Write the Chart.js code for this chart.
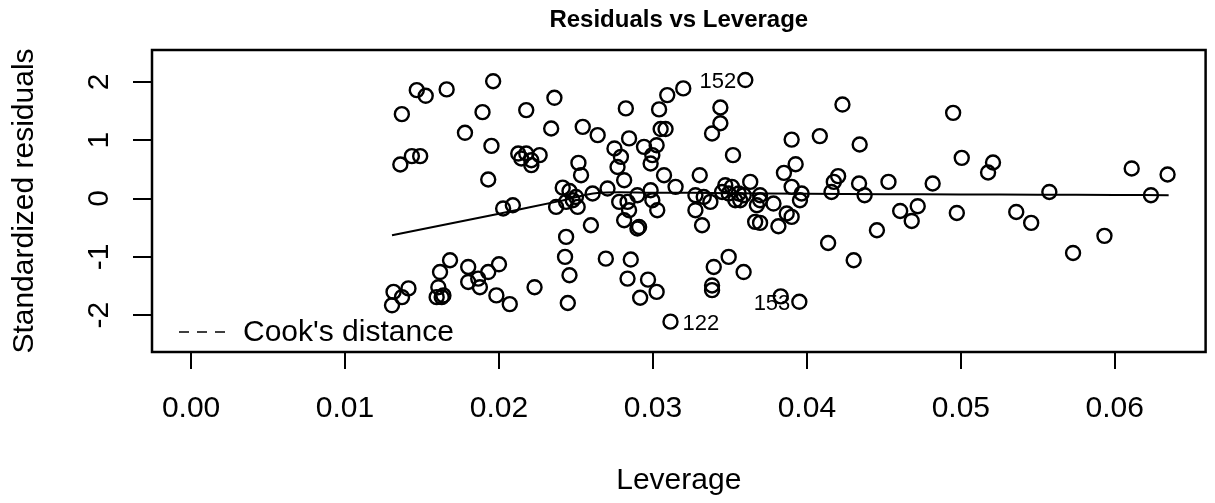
<!DOCTYPE html>
<html>
<head>
  <title>Residuals vs Leverage</title>
  <script src="https://cdn.jsdelivr.net/npm/chart.js"></script>
  <style>
    html, body { margin: 0; padding: 0; background: #fff; }
    #wrap { width: 1215px; height: 503px; }
  </style>
</head>
<body>
  <div id="wrap"><canvas id="chart" width="1215" height="503"></canvas></div>

  <script>
    // leverage (x) and standardized residuals (y)
    const leverage = [
      0.01369, 0.01466, 0.01524, 0.0166, 0.01779, 0.01893, 0.01962, 0.01951, 0.0193, 0.01359,
      0.01434, 0.01488, 0.02125, 0.02177, 0.02145, 0.0221, 0.02264, 0.0221, 0.02177, 0.0236,
      0.02339, 0.02027, 0.0209, 0.02371, 0.02414, 0.02458, 0.025, 0.02436, 0.02511, 0.02479,
      0.02608, 0.02705, 0.02516, 0.02533, 0.02544, 0.02641, 0.02597, 0.02436, 0.02429, 0.02458,
      0.02447, 0.01315, 0.01412, 0.0137, 0.01305, 0.01682, 0.01617, 0.01606, 0.01595, 0.01628,
      0.01639, 0.018, 0.018, 0.01865, 0.01876, 0.0193, 0.02, 0.01983, 0.0207, 0.02231,
      0.02824, 0.02845, 0.0275, 0.02792, 0.0277, 0.02942, 0.03024, 0.02996, 0.02985, 0.02813,
      0.0304, 0.0305, 0.03082, 0.03093, 0.03197, 0.03072, 0.03147, 0.02781, 0.02835, 0.02899,
      0.02845, 0.02813, 0.0291, 0.02899, 0.02985, 0.02996, 0.03028, 0.02694, 0.02856, 0.02835,
      0.02968, 0.03024, 0.02917, 0.03114, 0.036, 0.03438, 0.03438, 0.03384, 0.0352, 0.03304,
      0.03632, 0.03276, 0.0333, 0.03276, 0.03319, 0.03373, 0.0347, 0.03513, 0.03449, 0.03492,
      0.03557, 0.0359, 0.03535, 0.03567, 0.03664, 0.03696, 0.03675, 0.03696, 0.03783, 0.03901,
      0.03966, 0.03955, 0.03869, 0.03901, 0.03696, 0.03815, 0.03395, 0.03492, 0.03589, 0.03384,
      0.03384, 0.0383, 0.03951, 0.04231, 0.03901, 0.04084, 0.04343, 0.03927, 0.03851, 0.04203,
      0.04175, 0.0416, 0.04339, 0.04375, 0.0453, 0.04817, 0.04606, 0.0472, 0.04681, 0.04455,
      0.04138, 0.04304, 0.0495, 0.05006, 0.05209, 0.05177, 0.04974, 0.0536, 0.05457, 0.05575,
      0.05729, 0.05933, 0.0611, 0.06235, 0.06343
    ];
    const stdResid = [
      1.446, 1.857, 1.76, 1.87, 1.126, 1.48, 2.01, 0.902, 0.326, 0.583,
      0.726, 0.726, 0.771, 0.771, 0.686, 0.657, 0.743, 0.572, 1.515, 1.726,
      1.2, -0.17, -0.115, -0.144, 0.186, 0.129, 0.027, -0.058, -0.144, -0.03,
      0.086, 0.171, 0.61, 0.4, 1.228, 1.086, -0.458, -0.658, -1.0, -1.315,
      -1.79, -1.6, -1.54, -1.69, -1.83, -1.058, -1.26, -1.52, -1.69, -1.69,
      -1.66, -1.173, -1.43, -1.372, -1.52, -1.26, -1.127, -1.66, -1.81, -1.52,
      1.544, 1.03, 0.858, 0.714, 0.54, 0.885, 0.914, 0.743, 0.6, 0.314,
      1.527, 1.19, 1.19, 1.772, 1.887, 0.4, 0.2, -0.058, -0.058, 0.057,
      -0.2, -0.372, -0.487, -0.515, 0.142, -0.03, -0.2, -1.03, -1.046, -1.372,
      -1.39, -1.6, -1.7, -2.11, 2.03, 1.56, 1.29, 1.115, 0.743, 0.4,
      0.285, 0.057, 0.027, -0.2, -0.458, -0.058, 0.228, 0.2, 0.113, 0.086,
      0.086, 0.057, -0.03, -0.03, -0.4, 0.057, -0.115, -0.03, -0.086, 0.2,
      0.086, -0.03, -0.257, -0.315, -0.418, -0.475, -1.173, -1.0, -1.26, -1.49,
      -1.57, -1.676, -1.77, 1.61, 1.01, 1.07, 0.926, 0.588, 0.44, 0.383,
      0.285, 0.113, 0.257, 0.057, 0.285, 0.257, -0.213, -0.132, -0.384, -0.544,
      -0.762, -1.058, 1.468, 0.697, 0.617, 0.446, -0.247, -0.23, -0.418, 0.113,
      -0.933, -0.64, 0.515, 0.057, 0.412
    ];

    // smoother line, from its visible bends
    const smoothX = [0.01305, 0.0200, 0.0240, 0.0264, 0.0300, 0.0350, 0.0400, 0.0450, 0.0500, 0.0550, 0.0600, 0.0635];
    const smoothY = [-0.63, -0.26, -0.04, 0.096, 0.10, 0.092, 0.082, 0.075, 0.07, 0.066, 0.06, 0.057];

    // flagged observations
    const idNames = ['152', '122', '153'];
    const idX = [0.036, 0.03114, 0.03951];
    const idY = [2.03, -2.11, -1.77];
    const idSide = ['left', 'right', 'left'];

    const xTicks = [0, 0.01, 0.02, 0.03, 0.04, 0.05, 0.06];
    const yTicks = [-2, -1, 0, 1, 2];
    const xRange = [-0.00254, 0.0659];
    const yRange = [-2.63, 2.545];

    const FONT = '"Liberation Sans", Arial, sans-serif';

    const rPlot = {
      id: 'rPlot',
      afterDraw(chart) {
        const ctx = chart.ctx;
        const a = chart.chartArea;
        const xs = chart.scales.x, ys = chart.scales.y;
        ctx.save();
        ctx.fillStyle = '#000';
        ctx.strokeStyle = '#000';

        // box
        ctx.lineWidth = 2.5;
        ctx.strokeRect(a.left, a.top, a.right - a.left, a.bottom - a.top);

        // y tick labels, rotated like R
        ctx.font = '30px ' + FONT;
        ctx.textAlign = 'center';
        ctx.textBaseline = 'middle';
        yTicks.forEach(v => {
          const py = ys.getPixelForValue(v);
          ctx.save();
          ctx.translate(100, py);
          ctx.rotate(-Math.PI / 2);
          ctx.fillText(String(v), 0, 0);
          ctx.restore();
        });

        // axis titles
        ctx.fillText('Leverage', (a.left + a.right) / 2, 481);
        ctx.save();
        ctx.translate(25, (a.top + a.bottom) / 2);
        ctx.rotate(-Math.PI / 2);
        ctx.fillText('Standardized residuals', 0, 0);
        ctx.restore();

        // main title
        ctx.font = 'bold 24px ' + FONT;
        ctx.fillText('Residuals vs Leverage', (a.left + a.right) / 2, 20);

        // legend
        ctx.lineWidth = 1.5;
        ctx.setLineDash([10, 8]);
        ctx.beginPath();
        ctx.moveTo(179, 332);
        ctx.lineTo(233, 332);
        ctx.stroke();
        ctx.setLineDash([]);
        ctx.font = '30px ' + FONT;
        ctx.textAlign = 'left';
        ctx.fillText("Cook's distance", 243, 333);

        // point ids
        ctx.font = '22px ' + FONT;
        idNames.forEach((t, i) => {
          const px = xs.getPixelForValue(idX[i]);
          const py = ys.getPixelForValue(idY[i]);
          if (idSide[i] === 'left') {
            ctx.textAlign = 'right';
            ctx.fillText(t, px - 9, py + 2);
          } else {
            ctx.textAlign = 'left';
            ctx.fillText(t, px + 12, py + 2);
          }
        });
        ctx.restore();
      }
    };

    new Chart(document.getElementById('chart'), {
      type: 'scatter',
      data: {
        datasets: [
          {
            label: 'residuals',
            data: leverage.map((x, i) => ({ x, y: stdResid[i] })),
            pointStyle: 'circle',
            pointRadius: 7,
            pointHoverRadius: 7,
            borderColor: '#000',
            borderWidth: 2.4,
            backgroundColor: 'rgba(0,0,0,0)'
          },
          {
            label: 'smooth',
            type: 'line',
            data: smoothX.map((x, i) => ({ x, y: smoothY[i] })),
            borderColor: '#000',
            borderWidth: 2,
            pointRadius: 0,
            tension: 0.3,
            fill: false
          }
        ]
      },
      options: {
        responsive: false,
        animation: false,
        events: [],
        layout: { padding: { top: 50, right: 5, left: 0, bottom: 0 } },
        plugins: { legend: { display: false }, tooltip: { enabled: false }, title: { display: false } },
        scales: {
          x: {
            type: 'linear',
            min: xRange[0],
            max: xRange[1],
            afterBuildTicks: s => { s.ticks = xTicks.map(v => ({ value: v })); },
            afterFit: s => { s.height = 151; },
            border: { display: false },
            grid: { drawOnChartArea: false, drawTicks: true, tickLength: 17, color: '#000', lineWidth: 2 },
            ticks: {
              color: '#000',
              font: { size: 30, family: FONT },
              padding: 22,
              maxRotation: 0,
              callback: v => Number(v).toFixed(2)
            }
          },
          y: {
            type: 'linear',
            min: yRange[0],
            max: yRange[1],
            afterBuildTicks: s => { s.ticks = yTicks.map(v => ({ value: v })); },
            afterFit: s => { s.width = 152; },
            border: { display: false },
            grid: { drawOnChartArea: false, drawTicks: true, tickLength: 19, color: '#000', lineWidth: 2 },
            ticks: { display: false }
          }
        }
      },
      plugins: [rPlot]
    });
  </script>
</body>
</html>
